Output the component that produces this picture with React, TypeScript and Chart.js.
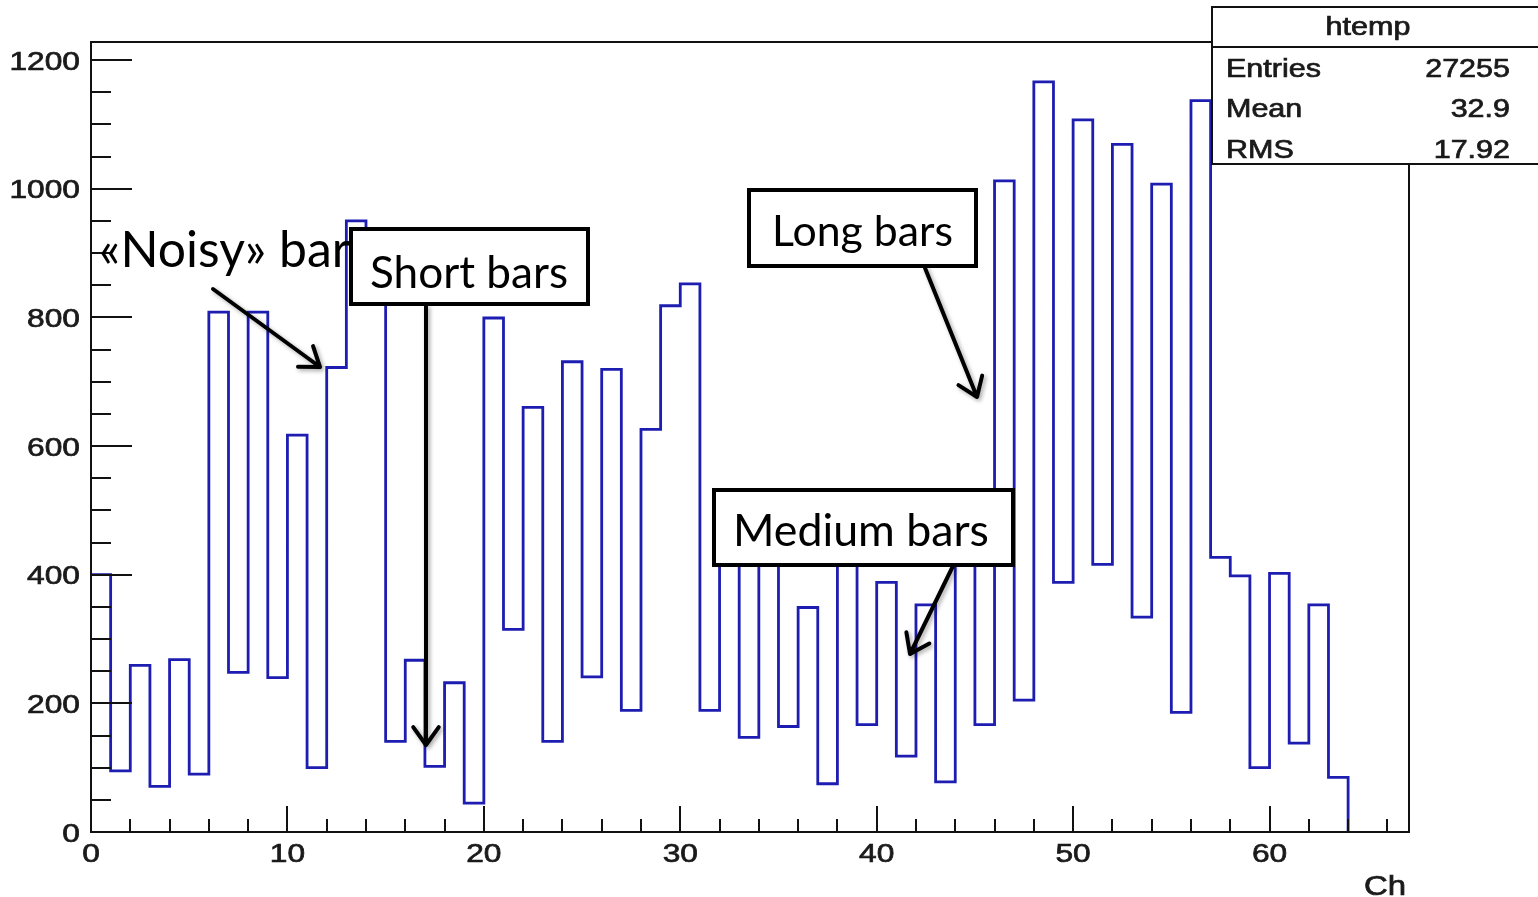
import React, { useEffect, useRef } from "react";
import { Chart, registerables } from "chart.js";

Chart.register(...registerables);

// ---------- data ----------
const channels = [
  0, 1, 2, 3, 4, 5, 6, 7, 8, 9, 10, 11, 12, 13, 14, 15,
  16, 17, 18, 19, 20, 21, 22, 23, 24, 25, 26, 27, 28, 29, 30, 31,
  32, 33, 34, 35, 36, 37, 38, 39, 40, 41, 42, 43, 44, 45, 46, 47,
  48, 49, 50, 51, 52, 53, 54, 55, 56, 57, 58, 59, 60, 61, 62, 63,
];
const counts = [
  400, 95, 259, 71, 268, 90, 808, 248, 808, 240, 617, 100, 722, 950, 880, 141,
  267, 102, 232, 45, 799, 315, 660, 141, 731, 241, 719, 189, 626, 818, 852, 189,
  445, 147, 440, 164, 349, 75, 450, 167, 388, 118, 353, 78, 445, 167, 1012, 205,
  1166, 388, 1107, 416, 1069, 334, 1007, 186, 1137, 427, 398, 100, 402, 138, 353, 85,
];
const binWidth = 1;
const xTickValues = [0, 10, 20, 30, 40, 50, 60];
const yTickValues = [0, 200, 400, 600, 800, 1000, 1200];
const xAxisTitle = "Ch";
const statsTitle = "htemp";
const statsNames = ["Entries", "Mean", "RMS"];
const statsValues = ["27255", "32.9", "17.92"];
const noisyLabel = "«Noisy» bars";
const boxLabels = ["Short bars", "Long bars", "Medium bars"];

// ---------- layout / style ----------
const W = 1538;
const H = 897;
const X_MAX = 67.1;
const Y_MAX = 1228;
const HIST_COLOR = "#1d1db2";
const ROOT_FONT = '"Liberation Sans", Arial, Helvetica, sans-serif';
const NOTE_FONT = 'Lato, "Open Sans", sans-serif';
const STRETCH = 1.22;

const boxGeom = [
  { l: 351, t: 229, r: 588, b: 304, tx: 370, ty: 288, tw: 198 },
  { l: 749, t: 190, r: 976, b: 266, tx: 772, ty: 246, tw: 181 },
  { l: 714, t: 490, r: 1013, b: 565, tx: 733, ty: 546, tw: 256 },
];
const arrowGeom = [
  [213, 289, 320, 367],
  [426, 306, 426, 745],
  [925, 268, 977, 397],
  [953, 566, 910, 654],
];

function stretchText(ctx: CanvasRenderingContext2D, text: string, x: number, y: number, align: CanvasTextAlign, sx: number) {
  ctx.save();
  ctx.translate(x, y);
  ctx.scale(sx, 1);
  ctx.textAlign = align;
  ctx.textBaseline = "alphabetic";
  ctx.lineWidth = 0.7;
  ctx.strokeStyle = ctx.fillStyle as string;
  ctx.fillText(text, 0, 0);
  ctx.strokeText(text, 0, 0);
  ctx.restore();
}

function fitFont(ctx: CanvasRenderingContext2D, text: string, width: number, family: string) {
  ctx.font = `100px ${family}`;
  const w = ctx.measureText(text).width;
  return (100 * width) / w;
}

function drawArrow(ctx: CanvasRenderingContext2D, x1: number, y1: number, x2: number, y2: number) {
  const ang = Math.atan2(y2 - y1, x2 - x1);
  const head = 22;
  const spread = 0.62;
  ctx.beginPath();
  ctx.moveTo(x1, y1);
  ctx.lineTo(x2, y2);
  ctx.moveTo(x2 - head * Math.cos(ang - spread), y2 - head * Math.sin(ang - spread));
  ctx.lineTo(x2, y2);
  ctx.lineTo(x2 - head * Math.cos(ang + spread), y2 - head * Math.sin(ang + spread));
  ctx.stroke();
}

const rootDecor = {
  id: "rootDecor",
  afterDatasetsDraw(chart: any) {
    const { ctx, chartArea: a, scales } = chart;
    const x = scales.x;
    const y = scales.y;
    ctx.save();
    ctx.strokeStyle = "#111";
    ctx.lineWidth = 2;
    ctx.lineCap = "butt";
    ctx.strokeRect(a.left, a.top, a.right - a.left, a.bottom - a.top);
    ctx.beginPath();
    for (let v = 0; v <= Y_MAX; v += 50) {
      const py = Math.round(y.getPixelForValue(v));
      const len = v % 200 === 0 ? 41 : 20;
      ctx.moveTo(a.left, py);
      ctx.lineTo(a.left + len, py);
    }
    for (let v = 0; v <= X_MAX; v += 2) {
      const px = Math.round(x.getPixelForValue(v));
      const len = v % 10 === 0 ? 26 : 13;
      ctx.moveTo(px, a.bottom);
      ctx.lineTo(px, a.bottom - len);
    }
    ctx.stroke();
    ctx.restore();
  },
  afterDraw(chart: any) {
    const { ctx, chartArea: a, scales } = chart;
    const x = scales.x;
    const y = scales.y;
    ctx.save();
    ctx.fillStyle = "#1a1a1a";
    ctx.font = `26px ${ROOT_FONT}`;
    yTickValues.forEach((v) => {
      const py = y.getPixelForValue(v);
      stretchText(ctx, String(v), a.left - 11, py + 9.5, "right", STRETCH);
    });
    xTickValues.forEach((v) => {
      const px = x.getPixelForValue(v);
      stretchText(ctx, String(v), px, a.bottom + 30, "center", STRETCH);
    });
    ctx.font = `27px ${ROOT_FONT}`;
    stretchText(ctx, xAxisTitle, a.right - 3, 895, "right", STRETCH);

    ctx.fillStyle = "#000";
    const nfs = fitFont(ctx, "«Noisy» bar", 251, NOTE_FONT);
    ctx.font = `${nfs}px ${NOTE_FONT}`;
    ctx.textAlign = "left";
    ctx.textBaseline = "alphabetic";
    ctx.fillText(noisyLabel, 99, 267);

    boxLabels.forEach((label, i) => {
      const g = boxGeom[i];
      ctx.fillStyle = "#fff";
      ctx.fillRect(g.l, g.t, g.r - g.l, g.b - g.t);
      ctx.strokeStyle = "#000";
      ctx.lineWidth = 4;
      ctx.strokeRect(g.l, g.t, g.r - g.l, g.b - g.t);
      ctx.fillStyle = "#000";
      const fs = fitFont(ctx, label, g.tw, NOTE_FONT);
      ctx.font = `${fs}px ${NOTE_FONT}`;
      ctx.textAlign = "left";
      ctx.textBaseline = "alphabetic";
      ctx.fillText(label, g.tx, g.ty);
    });

    ctx.save();
    ctx.strokeStyle = "#000";
    ctx.lineWidth = 4;
    ctx.lineCap = "round";
    ctx.lineJoin = "round";
    ctx.shadowColor = "rgba(0,0,0,0.35)";
    ctx.shadowBlur = 4;
    ctx.shadowOffsetX = 2;
    ctx.shadowOffsetY = 2;
    arrowGeom.forEach(([x1, y1, x2, y2]) => drawArrow(ctx, x1, y1, x2, y2));
    ctx.restore();

    const sl = 1212, st = 7, sr = W + 10, sh = 47, sb = 164;
    ctx.fillStyle = "#fff";
    ctx.fillRect(sl, st, sr - sl, sb - st);
    ctx.strokeStyle = "#111";
    ctx.lineWidth = 2;
    ctx.strokeRect(sl, st, sr - sl, sb - st);
    ctx.beginPath();
    ctx.moveTo(sl, sh);
    ctx.lineTo(sr, sh);
    ctx.stroke();
    ctx.fillStyle = "#1a1a1a";
    ctx.font = `25px ${ROOT_FONT}`;
    stretchText(ctx, statsTitle, 1368, 35, "center", STRETCH);
    const rowBase = [77, 117, 158];
    statsNames.forEach((n, i) => {
      stretchText(ctx, n, 1226, rowBase[i], "left", STRETCH);
      stretchText(ctx, statsValues[i], 1510, rowBase[i], "right", STRETCH);
    });
    ctx.restore();
  },
};

export default function App() {
  const canvasRef = useRef<HTMLCanvasElement | null>(null);

  useEffect(() => {
    document.body.style.margin = "0";
    document.body.style.background = "#fff";
    const canvas = canvasRef.current;
    if (!canvas) return;

    const points = channels.map((c, i) => ({ x: c, y: counts[i] }));
    points.push({ x: channels[channels.length - 1] + binWidth, y: 0 });

    const chart = new Chart(canvas, {
      type: "line",
      data: {
        datasets: [
          {
            label: statsTitle,
            data: points,
            stepped: "before",
            borderColor: HIST_COLOR,
            borderWidth: 2.8,
            pointRadius: 0,
            fill: false,
            tension: 0,
          },
        ],
      },
      options: {
        animation: false,
        responsive: false,
        devicePixelRatio: 1,
        layout: { padding: { left: 91, top: 42, right: W - 1409, bottom: H - 832 } },
        plugins: { legend: { display: false }, tooltip: { enabled: false }, title: { display: false } },
        scales: {
          x: { type: "linear", min: 0, max: X_MAX, display: false },
          y: { type: "linear", min: 0, max: Y_MAX, display: false },
        },
      },
      plugins: [rootDecor],
    });

    let alive = true;
    if ((document as any).fonts && (document as any).fonts.load) {
      Promise.all([
        (document as any).fonts.load(`40px Lato`),
        (document as any).fonts.load(`26px "Liberation Sans"`),
      ])
        .then(() => {
          if (alive) chart.draw();
        })
        .catch(() => {});
    }

    return () => {
      alive = false;
      chart.destroy();
    };
  }, []);

  return (
    <div style={{ width: W, height: H, position: "relative" }}>
      <canvas ref={canvasRef} width={W} height={H} style={{ display: "block", width: W, height: H }} />
    </div>
  );
}
